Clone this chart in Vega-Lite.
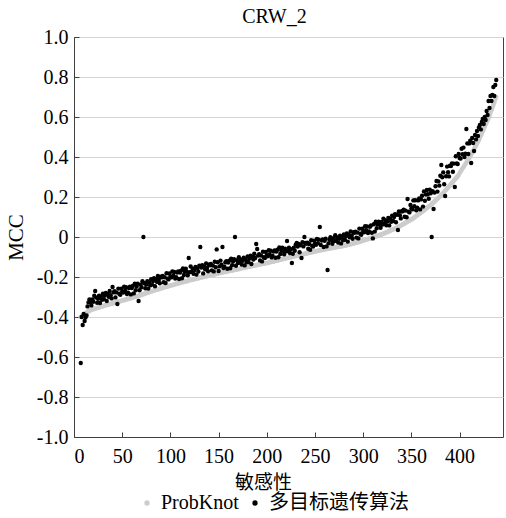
{
"$schema": "https://vega.github.io/schema/vega-lite/v6.json",
"width": 429, "height": 400,
"autosize": {"type": "none"},
"padding": {"left": 74, "top": 37, "right": 3, "bottom": 81},
"background": "white",
"title": {"text": "CRW_2", "font": "Liberation Serif", "fontSize": 20, "fontWeight": "normal", "color": "#000000", "frame": "group", "anchor": "middle", "dx": -14, "dy": 26, "offset": 10, "baseline": "alphabetic"},
"config": {"view": {"stroke": "#404040", "strokeWidth": 1}},
"data": {"values": [
{"x":7,"p":-0.400,"m":-0.630},{"x":8,"p":-0.397,"m":-0.400},{"x":9,"p":-0.393,"m":-0.440},{"x":10,"p":-0.390,"m":-0.385},{"x":11,"p":-0.386,"m":-0.420},{"x":12,"p":-0.382,"m":-0.402},{"x":13,"p":-0.378,"m":-0.392},
{"x":14,"p":-0.375,"m":-0.347},{"x":15,"p":-0.372,"m":-0.327},{"x":16,"p":-0.369,"m":-0.312},{"x":17,"p":-0.366,"m":-0.326},{"x":18,"p":-0.364,"m":-0.342},{"x":19,"p":-0.363,"m":-0.312},{"x":20,"p":-0.361,"m":-0.324},
{"x":21,"p":-0.359,"m":-0.294},{"x":22,"p":-0.358,"m":-0.270},{"x":23,"p":-0.356,"m":-0.303},{"x":24,"p":-0.355,"m":-0.329},{"x":25,"p":-0.353,"m":-0.309},{"x":26,"p":-0.352,"m":-0.293},{"x":27,"p":-0.350,"m":-0.330},{"x":28,"p":-0.349,"m":-0.299},{"x":29,"p":-0.347,"m":-0.314},{"x":30,"p":-0.346,"m":-0.283},
{"x":31,"p":-0.344,"m":-0.311},{"x":32,"p":-0.343,"m":-0.293},{"x":33,"p":-0.341,"m":-0.280},{"x":34,"p":-0.340,"m":-0.320},{"x":35,"p":-0.339,"m":-0.285},{"x":36,"p":-0.337,"m":-0.299},{"x":37,"p":-0.336,"m":-0.270},{"x":38,"p":-0.335,"m":-0.291},{"x":39,"p":-0.333,"m":-0.307},{"x":40,"p":-0.332,"m":-0.250},
{"x":41,"p":-0.330,"m":-0.277},{"x":42,"p":-0.329,"m":-0.271},{"x":43,"p":-0.327,"m":-0.302},{"x":44,"p":-0.326,"m":-0.277},{"x":45,"p":-0.325,"m":-0.335},{"x":46,"p":-0.323,"m":-0.258},{"x":47,"p":-0.322,"m":-0.284},{"x":48,"p":-0.321,"m":-0.289},{"x":49,"p":-0.319,"m":-0.258},{"x":50,"p":-0.318,"m":-0.273},
{"x":51,"p":-0.317,"m":-0.278},{"x":52,"p":-0.315,"m":-0.249},{"x":53,"p":-0.314,"m":-0.269},{"x":54,"p":-0.313,"m":-0.251},{"x":55,"p":-0.311,"m":-0.285},{"x":56,"p":-0.310,"m":-0.278},{"x":57,"p":-0.308,"m":-0.255},{"x":58,"p":-0.307,"m":-0.249},{"x":59,"p":-0.306,"m":-0.287},{"x":60,"p":-0.304,"m":-0.255},
{"x":61,"p":-0.303,"m":-0.245},{"x":62,"p":-0.301,"m":-0.282},{"x":63,"p":-0.300,"m":-0.234},{"x":64,"p":-0.298,"m":-0.266},{"x":65,"p":-0.297,"m":-0.248},{"x":66,"p":-0.295,"m":-0.234},{"x":67,"p":-0.294,"m":-0.320},{"x":68,"p":-0.292,"m":-0.266},{"x":69,"p":-0.291,"m":-0.238},{"x":70,"p":-0.289,"m":-0.251},
{"x":71,"p":-0.287,"m":-0.221},{"x":72,"p":-0.286,"m":0.000},{"x":73,"p":-0.284,"m":-0.231},{"x":74,"p":-0.282,"m":-0.256},{"x":75,"p":-0.280,"m":-0.237},{"x":76,"p":-0.279,"m":-0.221},{"x":77,"p":-0.277,"m":-0.258},{"x":78,"p":-0.275,"m":-0.227},{"x":79,"p":-0.274,"m":-0.242},{"x":80,"p":-0.272,"m":-0.211},
{"x":81,"p":-0.271,"m":-0.238},{"x":82,"p":-0.269,"m":-0.220},{"x":83,"p":-0.268,"m":-0.206},{"x":84,"p":-0.266,"m":-0.246},{"x":85,"p":-0.265,"m":-0.211},{"x":86,"p":-0.263,"m":-0.224},{"x":87,"p":-0.262,"m":-0.195},{"x":88,"p":-0.260,"m":-0.215},{"x":89,"p":-0.259,"m":-0.231},{"x":90,"p":-0.257,"m":-0.198},
{"x":91,"p":-0.256,"m":-0.202},{"x":92,"p":-0.254,"m":-0.195},{"x":93,"p":-0.253,"m":-0.226},{"x":94,"p":-0.251,"m":-0.201},{"x":95,"p":-0.250,"m":-0.230},{"x":96,"p":-0.249,"m":-0.181},{"x":97,"p":-0.247,"m":-0.208},{"x":98,"p":-0.246,"m":-0.212},{"x":99,"p":-0.244,"m":-0.182},{"x":100,"p":-0.243,"m":-0.197},
{"x":101,"p":-0.242,"m":-0.202},{"x":102,"p":-0.240,"m":-0.172},{"x":103,"p":-0.239,"m":-0.193},{"x":104,"p":-0.238,"m":-0.175},{"x":105,"p":-0.236,"m":-0.208},{"x":106,"p":-0.235,"m":-0.201},{"x":107,"p":-0.233,"m":-0.178},{"x":108,"p":-0.232,"m":-0.172},{"x":109,"p":-0.231,"m":-0.210},{"x":110,"p":-0.229,"m":-0.178},
{"x":111,"p":-0.228,"m":-0.168},{"x":112,"p":-0.227,"m":-0.206},{"x":113,"p":-0.225,"m":-0.157},{"x":114,"p":-0.224,"m":-0.190},{"x":115,"p":-0.223,"m":-0.172},{"x":116,"p":-0.222,"m":-0.158},{"x":117,"p":-0.221,"m":-0.174},{"x":118,"p":-0.219,"m":-0.191},{"x":119,"p":-0.218,"m":-0.105},{"x":120,"p":-0.216,"m":-0.176},
{"x":121,"p":-0.215,"m":-0.147},{"x":122,"p":-0.214,"m":-0.174},{"x":123,"p":-0.213,"m":-0.158},{"x":124,"p":-0.212,"m":-0.184},{"x":125,"p":-0.210,"m":-0.165},{"x":126,"p":-0.209,"m":-0.150},{"x":127,"p":-0.208,"m":-0.188},{"x":128,"p":-0.207,"m":-0.157},{"x":129,"p":-0.206,"m":-0.173},{"x":130,"p":-0.204,"m":-0.143},
{"x":131,"p":-0.203,"m":-0.050},{"x":132,"p":-0.202,"m":-0.153},{"x":133,"p":-0.201,"m":-0.141},{"x":134,"p":-0.200,"m":-0.182},{"x":135,"p":-0.199,"m":-0.147},{"x":136,"p":-0.198,"m":-0.161},{"x":137,"p":-0.197,"m":-0.132},{"x":138,"p":-0.195,"m":-0.154},{"x":139,"p":-0.194,"m":-0.171},{"x":140,"p":-0.193,"m":-0.137},
{"x":141,"p":-0.192,"m":-0.141},{"x":142,"p":-0.191,"m":-0.135},{"x":143,"p":-0.190,"m":-0.167},{"x":144,"p":-0.189,"m":-0.143},{"x":145,"p":-0.188,"m":-0.172},{"x":146,"p":-0.186,"m":-0.124},{"x":147,"p":-0.185,"m":-0.151},{"x":148,"p":-0.184,"m":-0.062},{"x":149,"p":-0.183,"m":-0.126},{"x":150,"p":-0.181,"m":-0.170},
{"x":151,"p":-0.180,"m":-0.147},{"x":152,"p":-0.179,"m":-0.118},{"x":153,"p":-0.178,"m":-0.139},{"x":154,"p":-0.177,"m":-0.050},{"x":155,"p":-0.176,"m":-0.155},{"x":156,"p":-0.175,"m":-0.149},{"x":157,"p":-0.174,"m":-0.127},{"x":158,"p":-0.173,"m":-0.121},{"x":159,"p":-0.172,"m":-0.159},{"x":160,"p":-0.171,"m":-0.128},
{"x":161,"p":-0.170,"m":-0.118},{"x":162,"p":-0.169,"m":-0.156},{"x":163,"p":-0.168,"m":-0.108},{"x":164,"p":-0.167,"m":-0.141},{"x":165,"p":-0.166,"m":-0.123},{"x":166,"p":-0.165,"m":-0.111},{"x":167,"p":-0.164,"m":0.000},{"x":168,"p":-0.163,"m":-0.144},{"x":169,"p":-0.162,"m":-0.116},{"x":170,"p":-0.161,"m":-0.130},
{"x":171,"p":-0.160,"m":-0.101},{"x":172,"p":-0.159,"m":-0.128},{"x":173,"p":-0.158,"m":-0.112},{"x":174,"p":-0.156,"m":-0.138},{"x":175,"p":-0.155,"m":-0.119},{"x":176,"p":-0.154,"m":-0.104},{"x":177,"p":-0.153,"m":-0.142},{"x":178,"p":-0.152,"m":-0.111},{"x":179,"p":-0.151,"m":-0.127},{"x":180,"p":-0.150,"m":-0.097},
{"x":181,"p":-0.149,"m":-0.125},{"x":182,"p":-0.148,"m":-0.107},{"x":183,"p":-0.147,"m":-0.094},{"x":184,"p":-0.146,"m":-0.135},{"x":185,"p":-0.145,"m":-0.099},{"x":186,"p":-0.144,"m":-0.113},{"x":187,"p":-0.143,"m":-0.084},{"x":188,"p":-0.142,"m":-0.105},{"x":189,"p":-0.141,"m":-0.035},{"x":190,"p":-0.140,"m":-0.060},
{"x":191,"p":-0.139,"m":-0.093},{"x":192,"p":-0.138,"m":-0.086},{"x":193,"p":-0.137,"m":-0.117},{"x":194,"p":-0.136,"m":-0.093},{"x":195,"p":-0.135,"m":-0.122},{"x":196,"p":-0.134,"m":-0.074},{"x":197,"p":-0.133,"m":-0.101},{"x":198,"p":-0.132,"m":-0.105},{"x":199,"p":-0.131,"m":-0.075},{"x":200,"p":-0.130,"m":-0.091},
{"x":201,"p":-0.129,"m":-0.096},{"x":202,"p":-0.128,"m":-0.066},{"x":203,"p":-0.126,"m":-0.087},{"x":204,"p":-0.125,"m":-0.069},{"x":205,"p":-0.124,"m":-0.102},{"x":206,"p":-0.123,"m":-0.095},{"x":207,"p":-0.122,"m":-0.073},{"x":208,"p":-0.121,"m":-0.067},{"x":209,"p":-0.119,"m":-0.104},{"x":210,"p":-0.118,"m":-0.073},
{"x":211,"p":-0.117,"m":-0.063},{"x":212,"p":-0.116,"m":-0.101},{"x":213,"p":-0.114,"m":-0.052},{"x":214,"p":-0.113,"m":-0.085},{"x":215,"p":-0.112,"m":-0.067},{"x":216,"p":-0.111,"m":-0.054},{"x":217,"p":-0.110,"m":-0.070},{"x":218,"p":-0.109,"m":-0.086},{"x":219,"p":-0.107,"m":-0.058},{"x":220,"p":-0.106,"m":-0.072},
{"x":221,"p":-0.105,"m":-0.020},{"x":222,"p":-0.104,"m":-0.070},{"x":223,"p":-0.103,"m":-0.054},{"x":224,"p":-0.102,"m":-0.080},{"x":225,"p":-0.101,"m":-0.061},{"x":226,"p":-0.100,"m":-0.130},{"x":227,"p":-0.099,"m":-0.084},{"x":228,"p":-0.097,"m":-0.053},{"x":229,"p":-0.096,"m":-0.069},{"x":230,"p":-0.095,"m":-0.038},
{"x":231,"p":-0.094,"m":-0.030},{"x":232,"p":-0.093,"m":-0.048},{"x":233,"p":-0.092,"m":-0.035},{"x":234,"p":-0.090,"m":-0.076},{"x":235,"p":-0.089,"m":-0.041},{"x":236,"p":-0.088,"m":-0.105},{"x":237,"p":-0.087,"m":-0.026},{"x":238,"p":-0.086,"m":-0.047},{"x":239,"p":-0.085,"m":0.000},{"x":240,"p":-0.083,"m":-0.030},
{"x":241,"p":-0.082,"m":-0.034},{"x":242,"p":-0.081,"m":-0.028},{"x":243,"p":-0.080,"m":-0.059},{"x":244,"p":-0.079,"m":-0.035},{"x":245,"p":-0.078,"m":-0.064},{"x":246,"p":-0.077,"m":-0.016},{"x":247,"p":-0.076,"m":-0.043},{"x":248,"p":-0.075,"m":-0.048},{"x":249,"p":-0.073,"m":-0.018},{"x":250,"p":-0.072,"m":-0.034},
{"x":251,"p":-0.071,"m":-0.039},{"x":252,"p":-0.070,"m":-0.010},{"x":253,"p":-0.069,"m":-0.031},{"x":254,"p":-0.068,"m":-0.013},{"x":255,"p":-0.067,"m":0.050},{"x":256,"p":-0.066,"m":-0.040},{"x":257,"p":-0.065,"m":-0.018},{"x":258,"p":-0.064,"m":-0.012},{"x":259,"p":-0.063,"m":-0.050},{"x":260,"p":-0.062,"m":-0.019},
{"x":261,"p":-0.061,"m":-0.009},{"x":262,"p":-0.060,"m":-0.047},{"x":263,"p":-0.059,"m":-0.165},{"x":264,"p":-0.058,"m":-0.032},{"x":265,"p":-0.057,"m":-0.014},{"x":266,"p":-0.056,"m":-0.001},{"x":267,"p":-0.056,"m":-0.017},{"x":268,"p":-0.055,"m":-0.034},{"x":269,"p":-0.054,"m":-0.006},{"x":270,"p":-0.053,"m":-0.020},
{"x":271,"p":-0.052,"m":0.009},{"x":272,"p":-0.051,"m":-0.018},{"x":273,"p":-0.050,"m":-0.002},{"x":274,"p":-0.049,"m":-0.028},{"x":275,"p":-0.048,"m":-0.009},{"x":276,"p":-0.047,"m":0.006},{"x":277,"p":-0.047,"m":-0.032},{"x":278,"p":-0.046,"m":-0.001},{"x":279,"p":-0.045,"m":-0.017},{"x":280,"p":-0.044,"m":0.013},
{"x":281,"p":-0.043,"m":-0.014},{"x":282,"p":-0.042,"m":0.004},{"x":283,"p":-0.040,"m":0.018},{"x":284,"p":-0.039,"m":-0.023},{"x":285,"p":-0.038,"m":0.013},{"x":286,"p":-0.037,"m":-0.001},{"x":287,"p":-0.036,"m":0.028},{"x":288,"p":-0.035,"m":0.007},{"x":289,"p":-0.033,"m":-0.009},{"x":290,"p":-0.032,"m":0.024},
{"x":291,"p":-0.031,"m":0.021},{"x":292,"p":-0.029,"m":0.027},{"x":293,"p":-0.028,"m":-0.003},{"x":294,"p":-0.027,"m":0.022},{"x":295,"p":-0.025,"m":-0.007},{"x":296,"p":-0.024,"m":0.042},{"x":297,"p":-0.022,"m":0.016},{"x":298,"p":-0.021,"m":0.011},{"x":299,"p":-0.019,"m":0.042},{"x":300,"p":-0.018,"m":0.028},
{"x":301,"p":-0.016,"m":0.024},{"x":302,"p":-0.015,"m":0.054},{"x":303,"p":-0.013,"m":0.034},{"x":304,"p":-0.012,"m":0.053},{"x":305,"p":-0.010,"m":0.020},{"x":306,"p":-0.009,"m":0.028},{"x":307,"p":-0.007,"m":0.051},{"x":308,"p":-0.006,"m":0.058},{"x":309,"p":-0.004,"m":0.021},{"x":310,"p":-0.003,"m":-0.007},
{"x":311,"p":-0.001,"m":0.064},{"x":312,"p":0.001,"m":0.027},{"x":313,"p":0.003,"m":0.076},{"x":314,"p":0.004,"m":0.044},{"x":315,"p":0.006,"m":0.063},{"x":316,"p":0.008,"m":0.077},{"x":317,"p":0.010,"m":0.062},{"x":318,"p":0.011,"m":0.046},{"x":319,"p":0.013,"m":0.075},{"x":320,"p":0.015,"m":0.062},
{"x":321,"p":0.017,"m":0.092},{"x":322,"p":0.019,"m":0.066},{"x":323,"p":0.021,"m":0.083},{"x":324,"p":0.023,"m":0.059},{"x":325,"p":0.025,"m":0.079},{"x":326,"p":0.027,"m":0.095},{"x":327,"p":0.029,"m":0.058},{"x":328,"p":0.032,"m":0.091},{"x":329,"p":0.034,"m":0.076},{"x":330,"p":0.036,"m":0.107},
{"x":331,"p":0.038,"m":0.080},{"x":332,"p":0.040,"m":0.100},{"x":333,"p":0.043,"m":0.114},{"x":334,"p":0.045,"m":0.074},{"x":335,"p":0.047,"m":0.111},{"x":336,"p":0.049,"m":0.035},{"x":337,"p":0.052,"m":0.128},{"x":338,"p":0.054,"m":0.109},{"x":339,"p":0.057,"m":0.093},{"x":340,"p":0.060,"m":0.129},
{"x":341,"p":0.063,"m":0.129},{"x":342,"p":0.065,"m":0.137},{"x":343,"p":0.068,"m":0.101},{"x":344,"p":0.071,"m":0.132},{"x":345,"p":0.074,"m":0.099},{"x":346,"p":0.077,"m":0.190},{"x":347,"p":0.079,"m":0.127},{"x":348,"p":0.082,"m":0.123},{"x":349,"p":0.085,"m":0.160},{"x":350,"p":0.088,"m":0.143},
{"x":351,"p":0.091,"m":0.138},{"x":352,"p":0.094,"m":0.183},{"x":353,"p":0.098,"m":0.154},{"x":354,"p":0.101,"m":0.184},{"x":355,"p":0.105,"m":0.134},{"x":356,"p":0.108,"m":0.147},{"x":357,"p":0.112,"m":0.183},{"x":358,"p":0.115,"m":0.193},{"x":359,"p":0.119,"m":0.138},{"x":360,"p":0.122,"m":0.188},
{"x":361,"p":0.126,"m":0.206},{"x":362,"p":0.130,"m":0.152},{"x":363,"p":0.133,"m":0.228},{"x":364,"p":0.137,"m":0.181},{"x":365,"p":0.141,"m":0.212},{"x":366,"p":0.145,"m":0.235},{"x":367,"p":0.149,"m":0.214},{"x":368,"p":0.152,"m":0.191},{"x":369,"p":0.156,"m":0.237},{"x":370,"p":0.160,"m":0.219},
{"x":371,"p":0.164,"m":0.000},{"x":372,"p":0.169,"m":0.229},{"x":373,"p":0.173,"m":0.140},{"x":374,"p":0.178,"m":0.222},{"x":375,"p":0.182,"m":0.254},{"x":376,"p":0.187,"m":0.280},{"x":377,"p":0.191,"m":0.227},{"x":378,"p":0.196,"m":0.278},{"x":379,"p":0.200,"m":0.257},{"x":380,"p":0.205,"m":0.306},
{"x":381,"p":0.210,"m":0.360},{"x":382,"p":0.215,"m":0.299},{"x":383,"p":0.220,"m":0.323},{"x":384,"p":0.226,"m":0.264},{"x":385,"p":0.231,"m":0.205},{"x":386,"p":0.236,"m":0.304},{"x":387,"p":0.242,"m":0.352},{"x":388,"p":0.247,"m":0.324},{"x":389,"p":0.252,"m":0.303},{"x":390,"p":0.258,"m":0.356},
{"x":391,"p":0.264,"m":0.355},{"x":392,"p":0.269,"m":0.368},{"x":393,"p":0.275,"m":0.326},{"x":394,"p":0.281,"m":0.367},{"x":395,"p":0.287,"m":0.250},{"x":396,"p":0.292,"m":0.404},{"x":397,"p":0.298,"m":0.368},{"x":398,"p":0.304,"m":0.365},{"x":399,"p":0.310,"m":0.415},{"x":400,"p":0.320,"m":0.395},
{"x":401,"p":0.327,"m":0.392},{"x":402,"p":0.335,"m":0.441},{"x":403,"p":0.342,"m":0.414},{"x":404,"p":0.350,"m":0.447},{"x":405,"p":0.357,"m":0.400},{"x":406,"p":0.365,"m":0.416},{"x":407,"p":0.372,"m":0.540},{"x":408,"p":0.380,"m":0.468},{"x":409,"p":0.387,"m":0.415},{"x":410,"p":0.395,"m":0.468},
{"x":411,"p":0.404,"m":0.482},{"x":412,"p":0.413,"m":0.370},{"x":413,"p":0.422,"m":0.495},{"x":414,"p":0.431,"m":0.470},{"x":415,"p":0.440,"m":0.430},{"x":416,"p":0.449,"m":0.510},{"x":417,"p":0.458,"m":0.488},{"x":418,"p":0.467,"m":0.530},{"x":419,"p":0.476,"m":0.505},{"x":420,"p":0.485,"m":0.548},
{"x":421,"p":0.496,"m":0.560},{"x":422,"p":0.507,"m":0.538},{"x":423,"p":0.518,"m":0.575},{"x":424,"p":0.529,"m":0.590},{"x":425,"p":0.540,"m":0.565},{"x":426,"p":0.551,"m":0.600},{"x":427,"p":0.562,"m":0.585},{"x":428,"p":0.573,"m":0.630},{"x":429,"p":0.584,"m":0.610},{"x":430,"p":0.595,"m":0.680},
{"x":431,"p":0.608,"m":0.645},{"x":432,"p":0.621,"m":0.705},{"x":433,"p":0.634,"m":0.680},{"x":434,"p":0.647,"m":0.710},{"x":435,"p":0.660,"m":0.750},{"x":436,"p":0.673,"m":0.705},{"x":437,"p":0.687,"m":0.760},{"x":438,"p":0.700,"m":0.785}
]},
"layer": [
{"mark": {"type": "point", "filled": true, "size": 22, "opacity": 1, "shape": "circle"},
 "encoding": {
  "x": {"field": "x", "type": "quantitative", "scale": {"domain": [0, 445], "nice": false, "zero": false},
        "axis": {"title": "敏感性", "values": [0,50,100,150,200,250,300,350,400], "tickCount": 9, "grid": false, "labelOverlap": false, "domainColor": "#404040", "tickColor": "#404040", "tickSize": -5, "labelPadding": 14, "labelFont": "Liberation Serif", "labelFontSize": 20, "labelColor": "#000000", "titleFont": "Noto Sans CJK SC", "titleFontSize": 19, "titleFontWeight": "normal", "titleColor": "#000000", "titleX": 189, "titleY": 45, "titleBaseline": "middle"}},
  "y": {"field": "p", "type": "quantitative", "scale": {"domain": [-1, 1], "nice": false, "zero": false},
        "axis": {"title": "MCC", "values": [-1,-0.8,-0.6,-0.4,-0.2,0,0.2,0.4,0.6,0.8,1], "tickCount": 11, "labelOverlap": false, "labelExpr": "datum.value == 0 ? '0' : (datum.value < 0 ? '-' : '') + format(abs(datum.value), '.1f')", "grid": true, "gridColor": "#d4d4d4", "gridWidth": 1, "domainColor": "#404040", "tickColor": "#404040", "tickSize": -5, "labelPadding": 11, "labelFont": "Liberation Serif", "labelFontSize": 20, "labelColor": "#000000", "titleFont": "Liberation Serif", "titleFontSize": 21, "titleFontWeight": "normal", "titleColor": "#000000", "titleX": -48, "titleY": 200, "titleAlign": "center"}},
  "color": {"datum": "ProbKnot", "type": "nominal",
            "scale": {"domain": ["ProbKnot", "多目标遗传算法"], "range": ["#cccccc", "#000000"]},
            "legend": {"title": null, "orient": "none", "direction": "horizontal", "legendX": 63, "legendY": 456, "symbolType": "circle", "symbolSize": 28, "labelFont": "Liberation Serif, Noto Sans CJK SC", "labelFontSize": 20, "labelColor": "#000000", "labelOffset": 4, "columnPadding": 6}}
 }},
{"mark": {"type": "point", "filled": true, "size": 19, "opacity": 1, "shape": "circle"},
 "encoding": {
  "x": {"field": "x", "type": "quantitative"},
  "y": {"field": "m", "type": "quantitative", "axis": {"title": "MCC", "tickCount": 11}},
  "color": {"datum": "多目标遗传算法", "type": "nominal"}
 }}
]
}
